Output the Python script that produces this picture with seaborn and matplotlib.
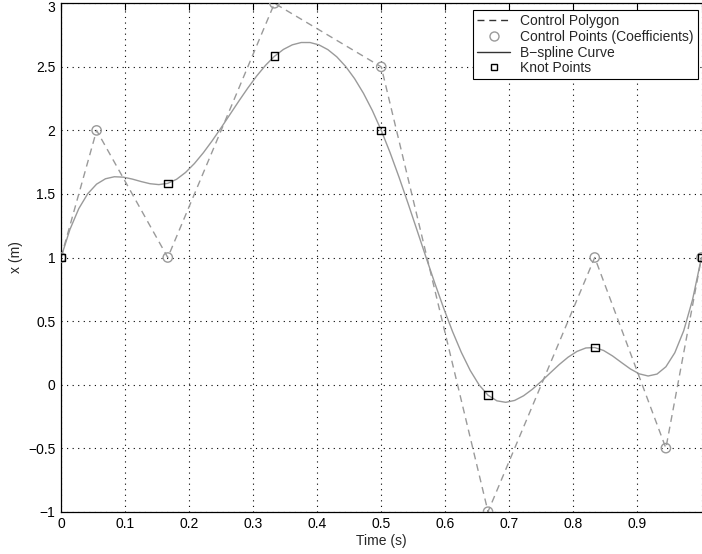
import numpy as np
import pandas as pd
import matplotlib
matplotlib.use("Agg")
import matplotlib.pyplot as plt
import matplotlib.transforms as mtransforms
import seaborn as sns
from matplotlib.lines import Line2D

# ---- data ----
ctrl_t = [0.0, 0.0556, 0.1667, 0.3333, 0.5, 0.6667, 0.8333, 0.9444, 1.0]
ctrl_x = [1.0, 2.0, 1.0, 3.0, 2.5, -1.0, 1.0, -0.5, 1.0]

knot_t = [0.0, 0.1667, 0.3333, 0.5, 0.6667, 0.8333, 1.0]
knot_x = [1.0, 1.5833, 2.5833, 2.0, -0.0833, 0.2917, 1.0]

curve_x = [
    1.0, 1.21996, 1.38464, 1.50130, 1.57716, 1.61945, 1.63542, 1.63228, 1.61728, 1.59766, 1.58063, 1.57345,
    1.58333, 1.61574, 1.66898, 1.73958, 1.82407, 1.91898, 2.02083, 2.12616, 2.23148, 2.33333, 2.42824, 2.51273,
    2.58333, 2.63710, 2.67323, 2.69141, 2.69136, 2.67279, 2.63542, 2.57895, 2.50309, 2.40755, 2.29205, 2.15630,
    2.0, 1.82374, 1.63156, 1.42839, 1.21914, 1.00873, 0.80208, 0.60412, 0.41975, 0.25391, 0.11150, -0.00256,
    -0.08333, -0.12767, -0.13946, -0.12435, -0.08796, -0.03595, 0.02605, 0.09238, 0.15742, 0.21550, 0.26099, 0.28827,
    0.29167, 0.26820, 0.22550, 0.17383, 0.12346, 0.08466, 0.06771, 0.08288, 0.14043, 0.25065, 0.42380, 0.67016, 1.0,
]
curve_t = np.arange(len(curve_x)) / (len(curve_x) - 1)

x_ticks = [0, 0.1, 0.2, 0.3, 0.4, 0.5, 0.6, 0.7, 0.8, 0.9, 1]
x_ticklabels = ["0", "0.1", "0.2", "0.3", "0.4", "0.5", "0.6", "0.7", "0.8", "0.9", ""]
y_ticks = [-1, -0.5, 0, 0.5, 1, 1.5, 2, 2.5, 3]
y_ticklabels = ["\u22121", "\u22120.5", "0", "0.5", "1", "1.5", "2", "2.5", "3"]

legend_labels = ["Control Polygon", "Control Points (Coefficients)", "B\u2212spline Curve", "Knot Points"]

df_ctrl = pd.DataFrame({"t": ctrl_t, "x": ctrl_x})
df_knot = pd.DataFrame({"t": knot_t, "x": knot_x})
df_curve = pd.DataFrame({"t": curve_t, "x": curve_x})

# ---- style ----
sns.set_style("white")
plt.rcParams["font.family"] = ["Liberation Sans", "DejaVu Sans"]
plt.rcParams["axes.unicode_minus"] = True

fig = plt.figure(figsize=(7.02, 5.54), dpi=100)
ax = fig.add_axes([61 / 702, 42.3 / 554, 640.5 / 702, 508.4 / 554])

gray = "#9a9a9a"
fs = 10

sns.lineplot(data=df_ctrl, x="t", y="x", ax=ax, color=gray, linewidth=1.0,
             linestyle=(0, (5, 3.5)), sort=False, estimator=None)
sns.lineplot(data=df_curve, x="t", y="x", ax=ax, color=gray, linewidth=1.0,
             sort=False, estimator=None)
sns.scatterplot(data=df_ctrl, x="t", y="x", ax=ax, marker="o", s=45,
                facecolor="none", edgecolor=gray, linewidth=1.0, zorder=5)
sns.scatterplot(data=df_knot, x="t", y="x", ax=ax, marker="s", s=30,
                facecolor="none", edgecolor="black", linewidth=1.0, zorder=6)

ax.set_xlim(0, 1)
ax.set_ylim(-1, 3)
ax.set_xticks(x_ticks)
ax.set_xticklabels(x_ticklabels)
ax.set_yticks(y_ticks)
ax.set_yticklabels(y_ticklabels)
ax.tick_params(direction="in", length=5, width=0.8, colors="black", labelsize=fs,
               top=True, right=False, pad=4)
ax.grid(True, color="black", linestyle=(0, (1, 4)), linewidth=0.8)
for side in ["left", "bottom", "top"]:
    ax.spines[side].set_color("black")
    ax.spines[side].set_linewidth(0.9)
ax.spines["right"].set_visible(False)

# nudge the top y tick label down slightly so it stays inside the figure
top_lbl = ax.get_yticklabels()[-1]
top_lbl.set_transform(top_lbl.get_transform() +
                      mtransforms.ScaledTranslation(0, -2.5 / 72, fig.dpi_scale_trans))

ax.set_xlabel("Time (s)", fontsize=fs, labelpad=2)
ax.set_ylabel("x (m)", fontsize=fs, labelpad=3.5)

handles = [
    Line2D([], [], color="#333333", linestyle=(0, (5, 3.5)), linewidth=1.0),
    Line2D([], [], color=gray, marker="o", markerfacecolor="none", linestyle="none",
           markersize=6.5, markeredgewidth=1.0),
    Line2D([], [], color="#333333", linewidth=1.0),
    Line2D([], [], color="black", marker="s", markerfacecolor="none", linestyle="none",
           markersize=5, markeredgewidth=1.0),
]
leg = ax.legend(handles, legend_labels, loc="upper right", bbox_to_anchor=(0.994, 0.9865),
                fontsize=fs, frameon=True, fancybox=False, framealpha=1,
                edgecolor="black", borderpad=0.3, labelspacing=0.12, handlelength=2.4,
                handletextpad=0.7, borderaxespad=0)
leg.get_frame().set_linewidth(0.8)

fig.savefig("out.png", dpi=100)
